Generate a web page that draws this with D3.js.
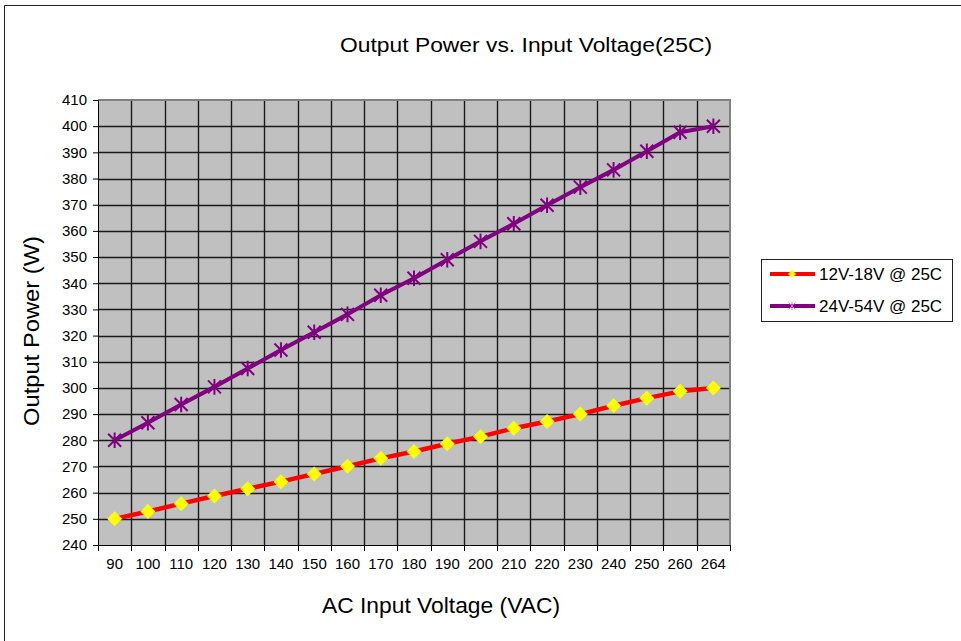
<!DOCTYPE html>
<html><head><meta charset="utf-8">
<script src="https://cdn.jsdelivr.net/npm/d3@7"></script>
<style>
html,body{margin:0;padding:0;background:#fff;}
svg{display:block;font-family:"Liberation Sans",Arial,sans-serif;}
</style></head>
<body>
<svg id="chart" width="961" height="641"></svg>
<script>
const categories = ["90","100","110","120","130","140","150","160","170","180","190","200","210","220","230","240","250","260","264"];
const series12V = [250, 252.8, 255.8, 258.7, 261.5, 264.2, 267.1, 270.1, 273.1, 275.7, 278.7, 281.4, 284.6, 287.2, 290, 293.2, 296.1, 298.7, 300];
const series24V = [280, 286.7, 293.7, 300.4, 307.4, 314.5, 321.3, 328.1, 335.4, 341.9, 349, 356, 362.7, 369.8, 376.7, 383.3, 390.4, 397.7, 400];
const yTicks = [240,250,260,270,280,290,300,310,320,330,340,350,360,370,380,390,400,410];
const seriesNames = ["12V-18V @ 25C", "24V-54V @ 25C"];
const titleText = "Output Power vs. Input Voltage(25C)";
const xTitle = "AC Input Voltage (VAC)";
const yTitle = "Output Power (W)";

const svg = d3.select("#chart");
const L = 98, R = 730, T = 100, B = 545;

// outer frame
svg.append("path").attr("d", "M4.5,641 L4.5,5.5 L961,5.5").attr("fill","none").attr("stroke","#222").attr("stroke-width",1);

const x = d3.scaleBand().domain(categories).range([L, R]).padding(0);
const y = d3.scaleLinear().domain([240, 410]).range([B, T]);
const cx = d => x(d) + x.bandwidth()/2;

// plot background
svg.append("rect").attr("x", L).attr("y", T).attr("width", R-L).attr("height", B-T).attr("fill", "#c0c0c0");

// grid
const g = svg.append("g");
g.selectAll("line.h").data(yTicks.slice(1, -1)).join("line")
  .attr("x1", L).attr("x2", R).attr("y1", d => Math.round(y(d))+0.5).attr("y2", d => Math.round(y(d))+0.5)
  .attr("stroke", "#1a1a1a").attr("stroke-width", 1.4);
g.selectAll("line.v").data(categories.slice(1)).join("line")
  .attr("y1", T).attr("y2", B).attr("x1", d => Math.round(x(d))+0.5).attr("x2", d => Math.round(x(d))+0.5)
  .attr("stroke", "#1a1a1a").attr("stroke-width", 1.4);

// plot border (top/right gray)
svg.append("path").attr("d", `M${L},${T} L${R},${T} L${R},${B}`).attr("fill","none").attr("stroke","#808080").attr("stroke-width",2);

// axes
const yAxis = svg.append("g").attr("transform", `translate(${L},0)`)
  .call(d3.axisLeft(y).tickValues(yTicks).tickSize(5).tickPadding(6).tickFormat(d3.format("d")));
yAxis.selectAll("text").attr("font-size", 15).attr("fill","#000").attr("font-family","Liberation Sans, Arial, sans-serif");
yAxis.selectAll("line,path").attr("stroke","#000");

const xAxis = svg.append("g").attr("transform", `translate(0,${B})`)
  .call(d3.axisBottom(x).tickSize(0).tickPadding(13));
xAxis.selectAll("text").attr("font-size", 15).attr("fill","#000").attr("font-family","Liberation Sans, Arial, sans-serif");
xAxis.select("path").attr("stroke","#000");
// bottom ticks at band boundaries
xAxis.selectAll("line.bt").data(categories.concat(["__end"])).join("line").attr("class","bt")
  .attr("x1", (d,i) => Math.round(i < categories.length ? x(d) : R)+0.5)
  .attr("x2", (d,i) => Math.round(i < categories.length ? x(d) : R)+0.5)
  .attr("y1", 0).attr("y2", 6).attr("stroke","#000");

// lines
const line = d3.line().x((d,i) => cx(categories[i])).y(d => y(d));
svg.append("path").datum(series12V).attr("d", line).attr("fill","none").attr("stroke","#ff0000").attr("stroke-width",4.5).attr("stroke-linejoin","round");
svg.append("path").datum(series24V).attr("d", line).attr("fill","none").attr("stroke","#800080").attr("stroke-width",4).attr("stroke-linejoin","round");

// markers
const diamond = (s) => `M0,${-s} L${s},0 L0,${s} L${-s},0 Z`;
svg.selectAll("path.dm").data(series12V).join("path").attr("class","dm")
  .attr("transform", (d,i) => `translate(${cx(categories[i])},${y(d)})`)
  .attr("d", diamond(7.5)).attr("fill","#ffff00");
const star = (s) => `M${-s},${-s} L${s},${s} M${-s},${s} L${s},${-s} M0,${-s*1.2} L0,${s*1.2}`;
svg.selectAll("path.st").data(series24V).join("path").attr("class","st")
  .attr("transform", (d,i) => `translate(${cx(categories[i])},${y(d)})`)
  .attr("d", star(6.5)).attr("fill","none").attr("stroke","#800080").attr("stroke-width",2);

// titles
svg.append("text").attr("x", 526).attr("y", 52).attr("text-anchor","middle").attr("font-size", 20)
  .attr("textLength", 372).attr("lengthAdjust","spacingAndGlyphs").attr("fill","#000").text(titleText);
svg.append("text").attr("x", 441).attr("y", 613).attr("text-anchor","middle").attr("font-size", 22)
  .attr("textLength", 238).attr("lengthAdjust","spacingAndGlyphs").attr("fill","#000").text(xTitle);
svg.append("text").attr("transform","translate(39,331) rotate(-90)").attr("text-anchor","middle").attr("font-size", 22)
  .attr("textLength", 190).attr("lengthAdjust","spacingAndGlyphs").attr("fill","#000").text(yTitle);

// legend
const lg = svg.append("g");
lg.append("rect").attr("x", 761.5).attr("y", 259.5).attr("width", 191).attr("height", 62).attr("fill","#fff").attr("stroke","#222").attr("stroke-width",1);
const ly = [274, 306];
const lcol = ["#ff0000", "#800080"];
seriesNames.forEach((n, i) => {
  lg.append("line").attr("x1", 770).attr("x2", 815).attr("y1", ly[i]).attr("y2", ly[i]).attr("stroke", lcol[i]).attr("stroke-width", 4);
  if (i === 0) lg.append("path").attr("transform", `translate(792,${ly[i]})`).attr("d", diamond(4)).attr("fill","#ffff00");
  else lg.append("path").attr("transform", `translate(792,${ly[i]})`).attr("d", star(3.5)).attr("fill","none").attr("stroke","#c080c0").attr("stroke-width",1);
  lg.append("text").attr("x", 819).attr("y", ly[i] + 6).attr("font-size", 17).attr("fill","#000").text(n);
});
</script>
</body></html>
